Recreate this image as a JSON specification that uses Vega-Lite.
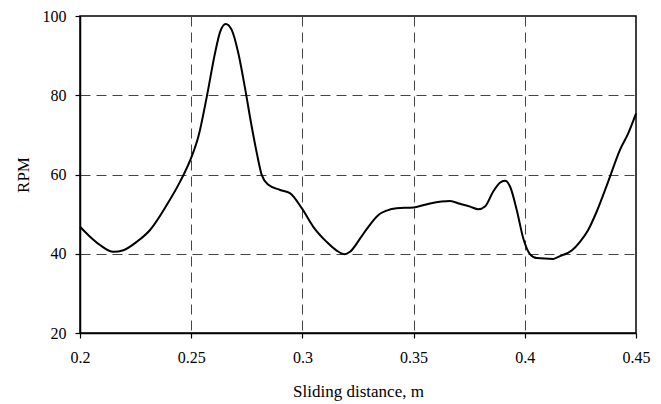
{
  "$schema": "https://vega.github.io/schema/vega-lite/v6.json",
  "width": 556,
  "height": 317,
  "autosize": "none",
  "padding": {"left": 80, "top": 16, "right": 25, "bottom": 71},
  "background": "white",
  "config": {
    "view": {"stroke": "#000", "strokeWidth": 1.5},
    "font": "Liberation Serif",
    "axis": {
      "labelFont": "Liberation Serif",
      "titleFont": "Liberation Serif",
      "labelFontSize": 16,
      "titleFontSize": 17,
      "titleFontWeight": "normal",
      "labelColor": "#000",
      "titleColor": "#000",
      "domainColor": "#000",
      "domainWidth": 1.5,
      "tickColor": "#000",
      "tickWidth": 1.2,
      "tickSize": 5,
      "gridColor": "#444",
      "gridWidth": 1,
      "gridDash": [10, 6]
    }
  },
  "data": {
    "values": [
      {"x": 0.2, "y": 46.8},
      {"x": 0.2045, "y": 44.3},
      {"x": 0.209, "y": 42.2},
      {"x": 0.215, "y": 40.5},
      {"x": 0.2195, "y": 40.9},
      {"x": 0.2255, "y": 43.0},
      {"x": 0.2315, "y": 46.0},
      {"x": 0.239, "y": 52.3},
      {"x": 0.245, "y": 58.2},
      {"x": 0.2502, "y": 64.5},
      {"x": 0.2532, "y": 69.5},
      {"x": 0.257, "y": 79.6},
      {"x": 0.2607, "y": 90.6},
      {"x": 0.263, "y": 96.0},
      {"x": 0.2655, "y": 98.0},
      {"x": 0.2682, "y": 96.5},
      {"x": 0.2712, "y": 90.6},
      {"x": 0.2742, "y": 81.8},
      {"x": 0.2772, "y": 72.1},
      {"x": 0.2795, "y": 65.4},
      {"x": 0.2817, "y": 59.9},
      {"x": 0.2847, "y": 57.4},
      {"x": 0.29, "y": 56.1},
      {"x": 0.2944, "y": 55.3},
      {"x": 0.2997, "y": 51.5},
      {"x": 0.3049, "y": 46.8},
      {"x": 0.3109, "y": 43.0},
      {"x": 0.3154, "y": 40.8},
      {"x": 0.3188, "y": 39.9},
      {"x": 0.3214, "y": 40.5},
      {"x": 0.3259, "y": 43.8},
      {"x": 0.3289, "y": 46.2},
      {"x": 0.3342, "y": 49.8},
      {"x": 0.3379, "y": 50.9},
      {"x": 0.3424, "y": 51.5},
      {"x": 0.3499, "y": 51.7},
      {"x": 0.3574, "y": 52.7},
      {"x": 0.3664, "y": 53.3},
      {"x": 0.3709, "y": 52.6},
      {"x": 0.3754, "y": 51.9},
      {"x": 0.3791, "y": 51.2},
      {"x": 0.3821, "y": 51.9},
      {"x": 0.3858, "y": 55.7},
      {"x": 0.3888, "y": 57.9},
      {"x": 0.3911, "y": 58.4},
      {"x": 0.3934, "y": 56.9},
      {"x": 0.3964, "y": 51.0},
      {"x": 0.3993, "y": 43.9},
      {"x": 0.4023, "y": 39.9},
      {"x": 0.4053, "y": 38.9},
      {"x": 0.4128, "y": 38.7},
      {"x": 0.4158, "y": 39.4},
      {"x": 0.4211, "y": 40.8},
      {"x": 0.4248, "y": 43.0},
      {"x": 0.4285, "y": 46.0},
      {"x": 0.4323, "y": 50.6},
      {"x": 0.4375, "y": 58.2},
      {"x": 0.4428, "y": 66.2},
      {"x": 0.4465, "y": 70.4},
      {"x": 0.45, "y": 75.4}
    ]
  },
  "mark": {"type": "line", "color": "#000", "strokeWidth": 2, "interpolate": "monotone"},
  "encoding": {
    "x": {
      "field": "x",
      "type": "quantitative",
      "scale": {"domain": [0.2, 0.45], "nice": false, "zero": false},
      "axis": {
        "title": "Sliding distance, m",
        "values": [0.2, 0.25, 0.3, 0.35, 0.4, 0.45],
        "format": "~g",
        "grid": true,
        "gridOpacity": {"condition": {"test": "datum.value <= 0.2 || datum.value >= 0.45", "value": 0}, "value": 1},
        "labelPadding": 11,
        "titlePadding": 18,
        "labelFlush": false
      }
    },
    "y": {
      "field": "y",
      "type": "quantitative",
      "scale": {"domain": [20, 100], "nice": false, "zero": false},
      "axis": {
        "title": "RPM",
        "values": [20, 40, 60, 80, 100],
        "grid": true,
        "gridOpacity": {"condition": {"test": "datum.value <= 20 || datum.value >= 100", "value": 0}, "value": 1},
        "labelPadding": 9,
        "titlePadding": 10,
        "labelFlush": false
      }
    }
  }
}
